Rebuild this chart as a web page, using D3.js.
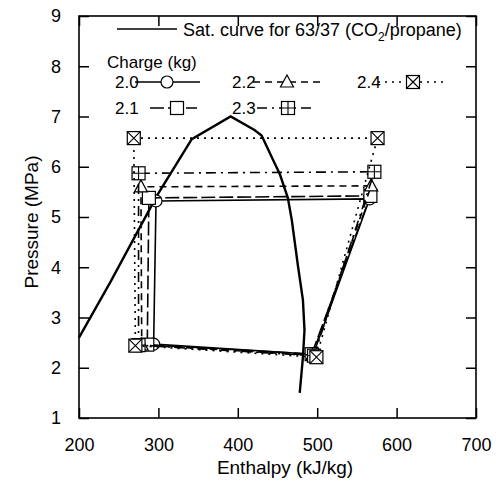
<!DOCTYPE html>
<html><head><meta charset="utf-8">
<script src="https://cdn.jsdelivr.net/npm/d3@7"></script>
<style>
body{margin:0;background:#fff}
text{font-family:"Liberation Sans",Arial,sans-serif;fill:#000}
</style>
</head><body>
<svg id="c" width="496" height="481"></svg>
<script>
// ---- data ----
const xTicks = [200, 300, 400, 500, 600, 700];
const yTicks = [1, 2, 3, 4, 5, 6, 7, 8, 9];
const satH = [200, 240, 298, 342, 391, 421, 430, 444, 453, 463, 468, 476, 482, 484, 482, 478];
const satP = [2.6, 3.72, 5.42, 6.55, 7.0, 6.73, 6.62, 6.15, 5.85, 5.38, 4.94, 4.0, 3.35, 2.75, 2.2, 1.5];
const charges = ["2.0", "2.1", "2.2", "2.3", "2.4"];
// cycle points: evaporator exit, compressor discharge, gas cooler exit, expansion exit
const cycleH = [
  [495, 566, 297, 294],
  [493, 567, 288, 286],
  [494, 568, 278, 279],
  [496, 572, 275, 275],
  [499, 576, 269, 271]
];
const cycleP = [
  [2.27, 5.36, 5.32, 2.47],
  [2.27, 5.42, 5.38, 2.46],
  [2.25, 5.62, 5.60, 2.45],
  [2.24, 5.90, 5.87, 2.45],
  [2.21, 6.57, 6.57, 2.44]
];

// ---- styles ----
const dashes = [null, "14,4", "7,5", "10,5,2,5", "2,5"];
const markerTypes = ["circle", "square", "triangle", "squarePlus", "squareX"];

const svg = d3.select("#c");
const L = 79, R = 476, T = 16, B = 418;
const x = d3.scaleLinear().domain([200, 700]).range([L, R]);
const y = d3.scaleLinear().domain([1, 9]).range([B, T]);

// axes (inward ticks on all four sides)
const tl = 10;
svg.append("g").attr("transform", `translate(0,${B})`)
  .call(d3.axisBottom(x).tickValues(xTicks).tickSizeInner(-tl).tickSizeOuter(0).tickPadding(tl + 10))
  .call(g => g.select(".domain").remove())
  .call(g => g.selectAll("text").attr("font-size", 18).attr("font-family", "Liberation Sans, Arial, sans-serif"));
svg.append("g").attr("transform", `translate(0,${T})`)
  .call(d3.axisTop(x).tickValues(xTicks).tickSizeInner(-tl).tickSizeOuter(0).tickFormat(""))
  .call(g => g.select(".domain").remove());
svg.append("g").attr("transform", `translate(${L},0)`)
  .call(d3.axisLeft(y).tickValues(yTicks).tickSizeInner(-tl).tickSizeOuter(0).tickPadding(tl + 8))
  .call(g => g.select(".domain").remove())
  .call(g => g.selectAll("text").attr("font-size", 18).attr("font-family", "Liberation Sans, Arial, sans-serif"));
svg.append("g").attr("transform", `translate(${R},0)`)
  .call(d3.axisRight(y).tickValues(yTicks).tickSizeInner(-tl).tickSizeOuter(0).tickFormat(""))
  .call(g => g.select(".domain").remove());
svg.selectAll(".tick line").attr("stroke", "#000").attr("stroke-width", 1.5);

svg.append("rect").attr("x", L).attr("y", T).attr("width", R - L).attr("height", B - T)
  .attr("fill", "none").attr("stroke", "#000").attr("stroke-width", 1.6);

// axis titles
svg.append("text").attr("x", 285).attr("y", 474).attr("text-anchor", "middle")
  .attr("font-size", 19).text("Enthalpy (kJ/kg)");
svg.append("text").attr("transform", "translate(38,222) rotate(-90)").attr("text-anchor", "middle")
  .attr("font-size", 19).text("Pressure (MPa)");

// saturation curve
const satData = satH.map((h, i) => [h, satP[i]]);
const line = d3.line().x(d => x(d[0])).y(d => y(d[1]));
svg.append("path").attr("d", line(satData)).attr("fill", "none")
  .attr("stroke", "#000").attr("stroke-width", 2.4).attr("stroke-linejoin", "miter");

// marker drawer
function drawMarker(g, type, cx, cy) {
  const s = 6.5;
  if (type === "circle") {
    g.append("circle").attr("cx", cx).attr("cy", cy).attr("r", 6).attr("fill", "#fff").attr("stroke", "#000").attr("stroke-width", 1.2);
  } else if (type === "triangle") {
    g.append("path").attr("d", `M${cx},${cy - 7}L${cx + 6.5},${cy + 5}L${cx - 6.5},${cy + 5}Z`)
      .attr("fill", "#fff").attr("stroke", "#000").attr("stroke-width", 1.2);
  } else {
    g.append("rect").attr("x", cx - s).attr("y", cy - s).attr("width", 2 * s).attr("height", 2 * s)
      .attr("fill", "#fff").attr("stroke", "#000").attr("stroke-width", 1.2);
    if (type === "squarePlus") {
      g.append("path").attr("d", `M${cx - s},${cy}H${cx + s}M${cx},${cy - s}V${cy + s}`).attr("stroke", "#000").attr("stroke-width", 1.1);
    } else if (type === "squareX") {
      g.append("path").attr("d", `M${cx - s},${cy - s}L${cx + s},${cy + s}M${cx + s},${cy - s}L${cx - s},${cy + s}`).attr("stroke", "#000").attr("stroke-width", 1.1);
    }
  }
}

// cycles
charges.forEach((c, i) => {
  const pts = cycleH[i].map((h, j) => [h, cycleP[i][j]]);
  const g = svg.append("g");
  g.append("path").attr("d", line(pts) + "Z").attr("fill", "none")
    .attr("stroke", "#000").attr("stroke-width", 1.6)
    .attr("stroke-dasharray", dashes[i]);
  pts.forEach(p => drawMarker(g, markerTypes[i], x(p[0]), y(p[1])));
});

// legend
const lg = svg.append("g");
lg.append("line").attr("x1", 117).attr("x2", 177).attr("y1", 29).attr("y2", 29)
  .attr("stroke", "#000").attr("stroke-width", 1.6);
const st = lg.append("text").attr("x", 183).attr("y", 36).attr("font-size", 18);
st.append("tspan").text("Sat. curve for 63/37 (CO");
st.append("tspan").attr("font-size", 12).attr("dy", 5).text("2");
st.append("tspan").attr("dy", -5).text("/propane)");
lg.append("text").attr("x", 107).attr("y", 68).attr("font-size", 17).text("Charge (kg)");

const legendPos = [
  {tx: 115, ty: 82, x1: 135, x2: 200, mx: 167},
  {tx: 115, ty: 108, x1: 150, x2: 197, mx: 177},
  {tx: 232, ty: 82, x1: 253, x2: 320, mx: 287},
  {tx: 232, ty: 108, x1: 257, x2: 312, mx: 288},
  {tx: 357, ty: 82, x1: 378, x2: 447, mx: 413}
];
charges.forEach((c, i) => {
  const p = legendPos[i];
  lg.append("text").attr("x", p.tx).attr("y", p.ty + 6).attr("font-size", 17).text(c);
  lg.append("line").attr("x1", p.x1).attr("x2", p.x2).attr("y1", p.ty).attr("y2", p.ty)
    .attr("stroke", "#000").attr("stroke-width", 1.6).attr("stroke-dasharray", dashes[i]);
  drawMarker(lg, markerTypes[i], p.mx, p.ty);
});
</script>
</body></html>
